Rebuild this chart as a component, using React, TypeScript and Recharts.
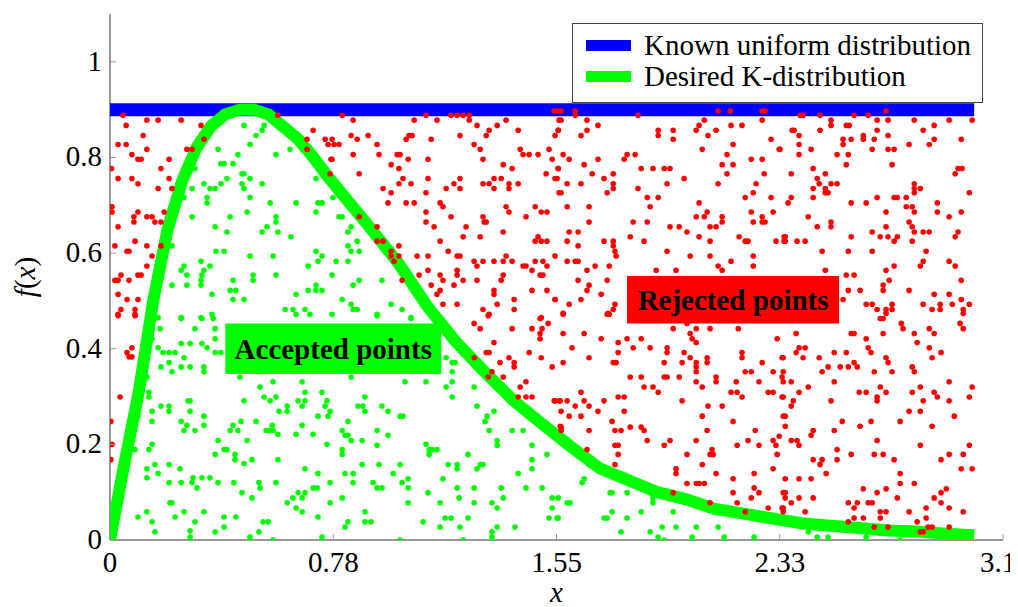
import React from 'react';
import { ComposedChart, XAxis, YAxis, Scatter, Legend, ReferenceArea } from 'recharts';

const FONT = 'Liberation Serif, Tinos, DejaVu Serif, Noto Serif, FreeSerif, Times New Roman, serif';
const FONT_SIZE = 29;
const TICK_COLOR = '#9a9a9a';
const FRAME_COLOR = '#333';

const xTicks = [0, 0.775, 1.55, 2.325, 3.1];
const xTickLabels = ['0', '0.78', '1.55', '2.33', '3.1'];
const yTicks = [0, 0.2, 0.4, 0.6, 0.8, 1];
const yTickLabels = ['0', '0.2', '0.4', '0.6', '0.8', '1'];

const seriesNames = ['Known uniform distribution', 'Desired K-distribution'];

// envelope used for the rejection sampling
const uniformLine = [
  [0, 0.9],
  [3, 0.9],
];

// target pdf
const kCurve = [
  [0, 0], [0.05, 0.16], [0.1, 0.31], [0.15, 0.5], [0.2, 0.65], [0.25, 0.75], [0.3, 0.82],
  [0.35, 0.865], [0.4, 0.89], [0.45, 0.9], [0.5, 0.9], [0.55, 0.89], [0.6, 0.865], [0.65, 0.84],
  [0.7, 0.805], [0.75, 0.765], [0.8, 0.728], [0.9, 0.655], [1.0, 0.58], [1.1, 0.49], [1.2, 0.415],
  [1.3, 0.352], [1.4, 0.292], [1.5, 0.243], [1.6, 0.195], [1.7, 0.15], [1.8, 0.125], [1.9, 0.1],
  [2.0, 0.085], [2.1, 0.065], [2.2, 0.055], [2.3, 0.045], [2.4, 0.035], [2.5, 0.03], [2.6, 0.025],
  [2.7, 0.02], [2.8, 0.018], [2.9, 0.013], [3.0, 0.01],
];

// samples above the pdf
const rejectedPoints = [
  [0.045,0.888],[0.056,0.867],[0.128,0.878],[0.167,0.878],[0.247,0.878],[0.316,0.867],[0.028,0.827],[0.056,0.827],
  [0.115,0.846],[0.128,0.817],[0.076,0.806],[0.097,0.796],[0.108,0.796],[0.205,0.796],[0.267,0.817],[0.285,0.817],
  [0.326,0.838],[0.005,0.777],[0.177,0.777],[0.028,0.756],[0.076,0.756],[0.097,0.745],[0.205,0.756],[0.167,0.735],
  [0.215,0.735],[0.007,0.697],[0.007,0.686],[0.097,0.686],[0.083,0.676],[0.128,0.676],[0.146,0.676],[0.083,0.665],
  [0.156,0.665],[0.177,0.665],[0.188,0.686],[0.028,0.655],[0.087,0.625],[0.017,0.615],[0.128,0.615],[0.059,0.604],
  [0.066,0.604],[0.177,0.615],[0.146,0.594],[0.128,0.573],[0.017,0.543],[0.028,0.543],[0.038,0.554],[0.066,0.543],
  [0.097,0.554],[0.108,0.554],[0.028,0.514],[0.059,0.503],[0.097,0.503],[0.028,0.472],[0.038,0.482],[0.087,0.482],
  [0.087,0.472],[0.583,0.888],[0.684,0.838],[0.684,0.817],[0.705,0.857],[0.747,0.838],[0.757,0.827],[0.778,0.827],
  [0.767,0.796],[0.764,0.766],
  [0.028,0.469],[0.087,0.469],[0.059,0.392],[0.066,0.383],[0.076,0.383],[0.076,0.402],[0.035,0.299],[0.003,0.248],
  [0.007,0.2],[0.003,0.168],
  [0.806,0.888],[0.844,0.878],[1.056,0.878],[1.097,0.888],[1.135,0.878],[1.184,0.888],[1.205,0.888],[1.226,0.888],
  [1.247,0.888],[1.247,0.878],[1.274,0.867],[1.375,0.878],[1.344,0.867],[1.417,0.857],[1.542,0.897],[1.559,0.878],
  [0.837,0.846],[0.858,0.838],[0.896,0.846],[0.771,0.838],[0.795,0.827],[0.771,0.796],[0.927,0.827],[0.934,0.806],
  [0.844,0.806],[1.028,0.838],[1.038,0.846],[1.049,0.846],[1.115,0.838],[1.215,0.846],[1.306,0.846],[1.316,0.857],
  [1.264,0.827],[1.285,0.817],[1.295,0.796],[0.997,0.806],[1.007,0.806],[1.035,0.796],[1.104,0.796],[0.976,0.785],
  [1.003,0.777],[1.365,0.785],[1.396,0.777],[1.424,0.817],[1.434,0.806],[1.455,0.806],[1.486,0.806],[1.524,0.817],
  [1.535,0.796],[1.556,0.857],[1.545,0.846],[1.556,0.777],[1.514,0.766],[1.545,0.756],[0.865,0.766],[1.017,0.756],
  [1.003,0.745],[1.045,0.745],[1.104,0.756],[0.948,0.735],[0.976,0.726],[0.965,0.705],[1.097,0.726],[1.167,0.735],
  [1.194,0.745],[1.215,0.756],[1.215,0.735],[1.295,0.745],[1.316,0.745],[1.333,0.756],[1.358,0.756],[1.333,0.735],
  [1.385,0.745],[1.385,0.735],[1.417,0.745],[1.559,0.726],[1.028,0.705],[1.056,0.705],[1.097,0.686],[1.097,0.665],
  [1.125,0.655],[1.146,0.705],[1.156,0.697],[1.184,0.676],[1.236,0.655],[1.226,0.634],[1.285,0.634],[1.295,0.676],
  [1.299,0.665],[1.306,0.665],[1.375,0.697],[1.385,0.686],[1.365,0.644],[1.444,0.676],[1.476,0.697],[1.497,0.686],
  [1.517,0.686],[1.476,0.625],[1.486,0.634],[1.497,0.625],[1.517,0.625],[0.865,0.676],[0.927,0.655],[0.927,0.625],
  [0.948,0.625],[1.003,0.615],[0.976,0.604],[0.976,0.594],[1.003,0.594],[0.986,0.583],[1.066,0.594],[1.104,0.594],
  [1.146,0.625],[1.174,0.604],[1.205,0.594],[1.215,0.594],[1.264,0.583],[1.274,0.573],[1.295,0.583],[1.333,0.583],
  [1.375,0.594],[1.365,0.583],[1.396,0.583],[1.434,0.573],[1.444,0.573],[1.476,0.583],[1.503,0.583],[1.517,0.573],
  [1.465,0.564],[1.493,0.554],[1.503,0.554],[1.014,0.543],[1.073,0.554],[1.104,0.564],[1.115,0.533],[1.146,0.554],
  [1.156,0.543],[1.146,0.522],[1.135,0.514],[1.205,0.564],[1.205,0.554],[1.194,0.533],[1.226,0.543],[1.274,0.543],
  [1.358,0.543],[1.365,0.554],[1.333,0.522],[1.333,0.514],[1.465,0.522],[1.517,0.522],[1.545,0.503],[1.156,0.493],
  [1.205,0.493],[1.295,0.482],[1.316,0.472],[1.344,0.493],[1.403,0.503],[1.403,0.482],[1.497,0.465],
  [1.556,0.897],[1.566,0.897],[1.615,0.897],[1.615,0.888],[1.833,0.888],[2.111,0.897],[2.153,0.897],[2.264,0.897],
  [2.274,0.897],[1.566,0.878],[1.656,0.878],[1.694,0.867],[1.656,0.857],[1.635,0.846],[1.556,0.857],[1.903,0.857],
  [1.903,0.846],[1.955,0.857],[1.955,0.838],[2.035,0.857],[2.045,0.867],[2.063,0.878],[2.076,0.846],[2.104,0.857],
  [2.156,0.867],[2.194,0.867],[2.264,0.878],[2.056,0.817],[2.163,0.827],[2.295,0.838],[2.323,0.817],[1.573,0.806],
  [1.594,0.796],[1.694,0.796],[1.646,0.785],[1.556,0.777],[1.795,0.806],[1.785,0.796],[1.823,0.806],[2.142,0.806],
  [2.125,0.785],[2.163,0.785],[2.142,0.766],[2.226,0.796],[2.264,0.796],[2.271,0.766],[1.844,0.777],[1.885,0.777],
  [1.924,0.777],[1.944,0.777],[1.674,0.766],[1.715,0.756],[1.747,0.766],[1.747,0.745],[1.747,0.735],[1.587,0.745],
  [1.635,0.745],[1.566,0.726],[1.552,0.756],[1.993,0.756],[1.934,0.745],[1.833,0.735],[2.111,0.745],[2.243,0.745],
  [2.233,0.726],[2.205,0.716],[2.295,0.716],[1.726,0.726],[1.865,0.716],[1.903,0.716],[1.875,0.697],[1.587,0.697],
  [1.663,0.697],[2.045,0.705],[2.073,0.686],[2.063,0.676],[2.035,0.676],[2.125,0.676],[2.125,0.665],[2.083,0.655],
  [2.104,0.655],[2.226,0.686],[2.233,0.665],[2.264,0.676],[2.264,0.665],[2.274,0.665],[2.302,0.686],[1.663,0.665],
  [1.816,0.665],[1.865,0.665],[1.944,0.655],[1.976,0.655],[2.003,0.644],[2.045,0.634],[1.594,0.644],[1.625,0.644],
  [1.587,0.625],[1.625,0.615],[1.806,0.634],[1.854,0.625],[1.715,0.625],[1.747,0.625],[1.747,0.615],[1.753,0.604],
  [1.757,0.594],[2.083,0.625],[2.184,0.634],[2.205,0.625],[2.215,0.625],[2.312,0.625],[2.340,0.634],[2.340,0.625],
  [1.934,0.604],[2.014,0.594],[2.083,0.594],[2.233,0.594],[2.233,0.573],[2.156,0.583],[2.111,0.573],[2.125,0.564],
  [1.545,0.594],[1.587,0.583],[1.615,0.583],[1.625,0.583],[1.656,0.564],[1.684,0.573],[1.733,0.573],[1.896,0.564],
  [1.965,0.564],[1.625,0.543],[1.726,0.543],[1.663,0.533],[1.656,0.522],[1.705,0.514],[1.635,0.503],[1.594,0.493],
  [1.573,0.472],[1.545,0.503],[1.753,0.493],[1.747,0.482],[1.733,0.472],[1.726,0.472],
  [2.396,0.888],[2.406,0.888],[2.465,0.888],[2.583,0.888],[2.632,0.888],[2.694,0.897],[2.503,0.878],[2.503,0.867],
  [2.465,0.857],[2.556,0.867],[2.566,0.867],[2.663,0.878],[2.701,0.878],[2.792,0.878],[2.913,0.878],[2.993,0.878],
  [2.861,0.867],[2.823,0.857],[2.663,0.857],[2.368,0.857],[2.375,0.857],[2.392,0.846],[2.392,0.827],[2.392,0.806],
  [2.434,0.817],[2.326,0.817],[2.545,0.838],[2.545,0.827],[2.573,0.838],[2.615,0.846],[2.615,0.838],[2.653,0.838],
  [2.701,0.846],[2.646,0.817],[2.701,0.817],[2.722,0.817],[2.774,0.827],[2.844,0.827],[2.861,0.838],[2.955,0.838],
  [2.524,0.806],[2.563,0.806],[2.556,0.785],[2.715,0.785],[2.365,0.766],[2.441,0.777],[2.455,0.756],[2.483,0.766],
  [2.462,0.745],[2.441,0.735],[2.483,0.735],[2.483,0.726],[2.493,0.726],[2.503,0.745],[2.524,0.745],[2.934,0.766],
  [2.944,0.777],[2.958,0.777],[2.792,0.745],[2.792,0.735],[2.813,0.735],[2.792,0.726],[2.983,0.726],[2.365,0.716],
  [2.354,0.705],[2.441,0.716],[2.573,0.705],[2.625,0.705],[2.663,0.716],[2.722,0.716],[2.733,0.716],[2.764,0.716],
  [2.764,0.697],[2.785,0.697],[2.792,0.686],[2.872,0.705],[2.872,0.686],[2.913,0.676],[2.955,0.686],[2.694,0.686],
  [2.424,0.676],[2.455,0.655],[2.503,0.665],[2.503,0.655],[2.344,0.634],[2.344,0.625],[2.385,0.625],[2.413,0.625],
  [2.573,0.634],[2.646,0.644],[2.674,0.634],[2.694,0.655],[2.701,0.634],[2.733,0.634],[2.722,0.625],[2.785,0.625],
  [2.774,0.665],[2.785,0.655],[2.792,0.644],[2.823,0.644],[2.844,0.644],[2.944,0.644],[2.934,0.634],[2.472,0.604],
  [2.563,0.604],[2.646,0.604],[2.833,0.604],[2.823,0.583],[2.813,0.573],[2.913,0.583],[2.934,0.573],[2.722,0.573],
  [2.694,0.564],[2.483,0.564],[2.556,0.554],[2.583,0.554],[2.705,0.543],[2.684,0.533],[2.684,0.522],[2.563,0.522],
  [2.604,0.522],[2.774,0.522],[2.955,0.543],[2.545,0.503],[2.625,0.493],[2.646,0.493],[2.663,0.482],[2.694,0.482],
  [2.715,0.493],[2.715,0.482],[2.823,0.493],[2.854,0.482],[2.882,0.493],[2.882,0.482],[2.924,0.493],[2.955,0.503],
  [2.962,0.482],[2.983,0.493],[2.861,0.514],[2.913,0.514],
  [1.313,0.469],[1.493,0.463],[1.521,0.453],[1.5,0.442],[1.493,0.432],[1.493,0.421],[1.465,0.442],[1.396,0.442],
  [1.264,0.453],[1.285,0.442],[1.333,0.413],[1.306,0.392],[1.316,0.392],[1.264,0.381],[1.354,0.371],[1.385,0.381],
  [1.403,0.371],[1.403,0.362],[1.455,0.392],[1.497,0.381],[1.535,0.362],[1.326,0.352],[1.313,0.341],[1.365,0.341],
  [1.424,0.32],[1.444,0.331],[1.444,0.299],[1.465,0.299],[1.417,0.299],[1.542,0.291],[1.559,0.291],[1.563,0.238],
  [1.729,0.474],[1.573,0.474],[1.573,0.432],[1.646,0.432],[1.705,0.421],[1.604,0.402],[1.573,0.371],[1.663,0.381],
  [1.764,0.413],[1.795,0.421],[1.764,0.392],[1.747,0.371],[1.757,0.371],[1.816,0.402],[1.844,0.421],[1.875,0.402],
  [1.806,0.341],[1.844,0.341],[1.854,0.32],[1.885,0.32],[1.903,0.309],[1.924,0.341],[1.934,0.341],[1.976,0.341],
  [1.934,0.402],[1.934,0.392],[1.924,0.371],[1.955,0.442],[2.003,0.453],[2.035,0.442],[2.083,0.442],[2.181,0.442],
  [2.014,0.432],[2.021,0.421],[2.035,0.413],[1.993,0.392],[2.014,0.381],[1.986,0.371],[2.035,0.371],[2.035,0.362],
  [2.035,0.352],[2.073,0.381],[2.073,0.371],[2.104,0.341],[2.104,0.331],[2.035,0.331],[2.056,0.32],[2.194,0.392],
  [2.194,0.381],[2.264,0.371],[2.205,0.352],[2.226,0.352],[2.302,0.352],[2.316,0.421],[2.333,0.381],[2.333,0.341],
  [2.253,0.331],[2.174,0.331],[2.156,0.309],[2.177,0.309],[2.194,0.299],[2.285,0.309],[2.302,0.309],[2.333,0.299],
  [2.125,0.28],[2.076,0.28],[1.986,0.291],[2.056,0.259],[2.073,0.229],[2.163,0.248],[2.24,0.229],[2.215,0.208],
  [2.253,0.198],[2.302,0.208],[2.312,0.198],[2.316,0.179],[2.177,0.198],[2.09,0.189],[2.083,0.179],[2.094,0.179],
  [2.003,0.179],[2.035,0.208],[2.056,0.158],[2.104,0.139],[2.163,0.128],[2.163,0.099],[2.177,0.078],[2.236,0.139],
  [2.236,0.109],[2.226,0.088],[2.253,0.099],[2.302,0.149],[2.285,0.067],[2.333,0.067],[2.337,0.099],[2.337,0.259],
  [2.323,0.217],[1.965,0.149],[1.965,0.139],[2.003,0.118],[2.035,0.118],[2.045,0.118],[2.063,0.118],[1.924,0.198],
  [1.944,0.208],[1.955,0.099],[2.083,0.078],[2.205,0.059],[1.545,0.291],[1.563,0.291],[1.587,0.291],[1.566,0.269],
  [1.594,0.259],[1.635,0.259],[1.635,0.309],[1.615,0.28],[1.646,0.291],[1.663,0.28],[1.694,0.269],[1.715,0.291],
  [1.764,0.299],[1.785,0.299],[1.785,0.269],[1.743,0.248],[1.753,0.229],[1.774,0.229],[1.806,0.236],[1.844,0.236],
  [1.854,0.229],[1.865,0.208],[1.753,0.198],[1.764,0.198],[1.764,0.179],[1.753,0.158],[1.656,0.189],[1.566,0.236],
  [1.566,0.229],[1.663,0.229],
  [2.674,0.463],[2.684,0.463],[2.694,0.474],[2.747,0.453],[2.753,0.442],[2.844,0.442],[2.861,0.432],[2.951,0.453],
  [2.962,0.442],[2.962,0.474],[2.382,0.432],[2.573,0.432],[2.583,0.432],[2.625,0.421],[2.684,0.432],[2.792,0.432],
  [2.802,0.413],[2.844,0.402],[2.854,0.381],[2.885,0.392],[2.392,0.402],[2.413,0.402],[2.382,0.392],[2.406,0.381],
  [2.337,0.381],[2.462,0.381],[2.514,0.392],[2.556,0.392],[2.632,0.402],[2.642,0.392],[2.694,0.381],[2.701,0.371],
  [2.337,0.352],[2.472,0.352],[2.493,0.362],[2.535,0.362],[2.563,0.362],[2.583,0.371],[2.594,0.362],[2.653,0.352],
  [2.715,0.352],[2.785,0.362],[2.792,0.352],[2.337,0.331],[2.365,0.331],[2.424,0.32],[2.392,0.309],[2.514,0.331],
  [2.601,0.309],[2.625,0.309],[2.674,0.32],[2.694,0.309],[2.663,0.299],[2.663,0.291],[2.785,0.309],[2.813,0.32],
  [2.823,0.291],[2.861,0.309],[2.872,0.299],[2.913,0.331],[2.913,0.291],[2.983,0.299],[2.993,0.32],[2.337,0.299],
  [2.372,0.291],[2.365,0.28],[2.503,0.291],[2.774,0.269],[2.813,0.269],[2.931,0.259],[2.344,0.259],[2.344,0.238],
  [2.542,0.248],[2.604,0.238],[2.642,0.248],[2.743,0.248],[2.854,0.238],[2.441,0.229],[2.434,0.219],[2.514,0.229],
  [2.365,0.208],[2.385,0.208],[2.392,0.198],[2.663,0.208],[2.813,0.198],[2.983,0.198],[2.524,0.189],[2.524,0.168],
  [2.573,0.179],[2.653,0.179],[2.684,0.179],[2.722,0.168],[2.441,0.168],[2.472,0.168],[2.465,0.158],[2.486,0.139],
  [2.962,0.179],[2.913,0.179],[2.885,0.168],[2.955,0.149],[2.993,0.149],[2.344,0.128],[2.392,0.128],[2.434,0.128],
  [2.743,0.139],[2.743,0.118],[2.792,0.118],[2.615,0.107],[2.694,0.107],[2.663,0.099],[2.344,0.099],[2.344,0.088],
  [2.392,0.088],[2.441,0.088],[2.365,0.078],[2.337,0.067],[2.337,0.059],[2.413,0.059],[2.563,0.078],[2.594,0.078],
  [2.632,0.078],[2.646,0.078],[2.583,0.067],[2.583,0.046],[2.615,0.046],[2.674,0.059],[2.694,0.059],[2.674,0.046],
  [2.733,0.088],[2.774,0.059],[2.833,0.067],[2.833,0.046],[2.802,0.038],[2.861,0.088],[2.885,0.099],[2.903,0.107],
  [2.885,0.078],[2.913,0.067],[2.962,0.059],[2.563,0.038],[2.653,0.027],[2.701,0.027],[2.840,0.027],[2.854,0.027],
  [2.813,0.017],[2.823,0.017],[2.913,0.027],
];

// samples under the pdf
const acceptedPoints = [
  [0.465,0.867],[0.528,0.857],[0.535,0.867],[0.507,0.846],[0.486,0.827],[0.375,0.817],[0.444,0.806],[0.576,0.806],
  [0.625,0.817],[0.385,0.787],[0.396,0.787],[0.427,0.787],[0.295,0.777],[0.458,0.766],[0.465,0.766],[0.406,0.756],
  [0.486,0.756],[0.326,0.745],[0.385,0.745],[0.285,0.735],[0.347,0.735],[0.365,0.735],[0.458,0.745],[0.465,0.735],
  [0.528,0.745],[0.715,0.756],[0.257,0.716],[0.337,0.716],[0.337,0.705],[0.486,0.716],[0.556,0.705],[0.646,0.705],
  [0.722,0.705],[0.736,0.705],[0.715,0.686],[0.476,0.686],[0.285,0.676],[0.417,0.676],[0.576,0.676],[0.576,0.665],
  [0.365,0.655],[0.406,0.644],[0.545,0.655],[0.528,0.644],[0.583,0.644],[0.628,0.634],[0.215,0.615],[0.368,0.604],
  [0.396,0.604],[0.486,0.594],[0.566,0.594],[0.715,0.604],[0.736,0.594],[0.722,0.583],[0.316,0.583],[0.257,0.573],
  [0.247,0.564],[0.347,0.573],[0.688,0.573],[0.267,0.554],[0.326,0.564],[0.319,0.554],[0.316,0.543],[0.316,0.533],
  [0.497,0.554],[0.497,0.543],[0.576,0.554],[0.215,0.533],[0.267,0.533],[0.427,0.543],[0.715,0.533],[0.417,0.522],
  [0.437,0.522],[0.354,0.514],[0.427,0.503],[0.465,0.503],[0.688,0.522],[0.715,0.522],[0.736,0.522],[0.646,0.514],
  [0.167,0.465],[0.247,0.465],[0.316,0.465],[0.354,0.472],[0.608,0.482],[0.635,0.482],[0.677,0.482],[0.694,0.472],
  [0.646,0.472],
  [0.774,0.716],[0.795,0.676],[0.806,0.676],[0.837,0.655],[0.826,0.644],[0.826,0.615],[0.837,0.604],[0.858,0.625],
  [0.865,0.604],[0.785,0.583],[0.826,0.583],[0.771,0.554],[0.865,0.543],[0.844,0.533],[0.944,0.543],[0.806,0.503],
  [0.837,0.493],[0.844,0.482],[0.858,0.482],[0.927,0.472],[0.976,0.493],[1.014,0.482],[1.045,0.465],[0.771,0.472],
  [0.174,0.442],[0.247,0.463],[0.319,0.463],[0.358,0.463],[0.365,0.442],[0.295,0.442],[0.146,0.421],[0.247,0.411],
  [0.278,0.411],[0.319,0.411],[0.337,0.402],[0.365,0.421],[0.167,0.402],[0.184,0.392],[0.205,0.392],[0.226,0.392],
  [0.257,0.381],[0.205,0.371],[0.177,0.362],[0.215,0.352],[0.247,0.362],[0.278,0.362],[0.326,0.362],[0.326,0.352],
  [0.365,0.392],[0.385,0.392],[0.128,0.341],[0.135,0.309],[0.135,0.299],[0.104,0.291],[0.177,0.28],[0.205,0.28],
  [0.205,0.269],[0.146,0.269],[0.097,0.259],[0.146,0.248],[0.271,0.291],[0.278,0.291],[0.278,0.269],[0.326,0.259],
  [0.247,0.248],[0.267,0.24],[0.257,0.229],[0.295,0.229],[0.326,0.24],[0.427,0.24],[0.417,0.229],[0.444,0.229],
  [0.455,0.248],[0.507,0.248],[0.465,0.291],[0.521,0.32],[0.566,0.331],[0.535,0.299],[0.556,0.291],[0.576,0.299],
  [0.615,0.28],[0.615,0.269],[0.587,0.269],[0.667,0.331],[0.677,0.309],[0.653,0.291],[0.677,0.291],[0.667,0.28],
  [0.736,0.309],[0.753,0.291],[0.747,0.28],[0.722,0.259],[0.757,0.259],[0.667,0.24],[0.563,0.24],[0.542,0.229],
  [0.552,0.229],[0.566,0.229],[0.583,0.221],[0.646,0.221],[0.705,0.221],[0.753,0.2],[0.476,0.208],[0.375,0.208],
  [0.451,0.341],[0.514,0.352],
  [0.087,0.189],[0.135,0.189],[0.146,0.2],[0.128,0.149],[0.128,0.13],[0.156,0.158],[0.167,0.139],[0.205,0.158],
  [0.243,0.149],[0.205,0.12],[0.247,0.12],[0.288,0.13],[0.302,0.109],[0.319,0.13],[0.347,0.13],[0.285,0.12],
  [0.375,0.12],[0.365,0.179],[0.396,0.189],[0.406,0.189],[0.434,0.179],[0.434,0.168],[0.465,0.16],[0.493,0.168],
  [0.583,0.168],[0.677,0.149],[0.722,0.139],[0.705,0.109],[0.719,0.109],[0.677,0.099],[0.653,0.099],[0.667,0.088],
  [0.635,0.088],[0.615,0.078],[0.646,0.067],[0.517,0.12],[0.521,0.109],[0.493,0.088],[0.43,0.12],[0.458,0.099],
  [0.576,0.12],
  [0.097,0.048],[0.128,0.059],[0.146,0.038],[0.156,0.017],[0.226,0.048],[0.257,0.059],[0.295,0.038],[0.278,0.019],
  [0.278,0.006],[0.326,0.059],[0.396,0.048],[0.437,0.048],[0.365,0.017],[0.396,0.027],[0.486,0.006],[0.517,0.017],
  [0.531,0.038],[0.549,0.038],[0.566,0.0],[0.667,0.059],[0.722,0.048],[0.736,0.006],[0.215,0.078],[0.208,0.078],
  [0.927,0.469],[1.045,0.463],[1.167,0.381],[1.188,0.371],[1.198,0.371],[1.188,0.352],[1.188,0.331],[1.167,0.32],
  [1.188,0.299],[1.264,0.32],[1.274,0.28],[0.837,0.341],[1.024,0.331],[1.097,0.331],[0.885,0.299],[0.861,0.28],
  [0.878,0.28],[0.885,0.269],[0.944,0.28],[0.965,0.269],[1.007,0.259],[1.017,0.259],[0.826,0.248],[0.806,0.229],
  [0.816,0.219],[0.826,0.219],[0.837,0.208],[0.875,0.208],[0.927,0.229],[0.965,0.219],[0.764,0.269],[1.333,0.269],
  [1.309,0.259],[1.302,0.248],[1.316,0.229],[1.396,0.229],[1.434,0.229],[1.344,0.208],[1.344,0.198],[1.465,0.198],
  [1.517,0.179],[1.465,0.168],[1.465,0.149],[1.097,0.2],[1.108,0.189],[1.118,0.189],[1.108,0.179],[1.135,0.189],
  [0.927,0.198],[0.806,0.189],[0.806,0.179],[0.875,0.158],[0.934,0.158],[1.007,0.158],[0.983,0.139],[0.816,0.139],
  [0.844,0.139],[0.844,0.12],[0.913,0.12],[0.927,0.109],[0.944,0.109],[1.014,0.12],[1.035,0.128],[1.035,0.109],
  [1.035,0.078],[0.764,0.12],[0.806,0.088],[0.764,0.078],[1.174,0.158],[1.205,0.158],[1.205,0.149],[1.243,0.179],
  [1.274,0.149],[1.285,0.158],[1.295,0.158],[1.156,0.128],[1.205,0.109],[1.264,0.109],[1.264,0.078],[1.212,0.088],
  [1.146,0.078],[1.104,0.099],[1.326,0.078],[1.344,0.067],[1.358,0.109],[1.365,0.088],[1.417,0.139],[1.444,0.109],
  [1.5,0.109],[1.535,0.088],[1.535,0.067],[1.524,0.046],[1.552,0.046],[1.406,0.027],[1.344,0.027],[1.326,0.017],
  [1.326,0.006],[1.243,0.046],[1.215,0.027],[1.163,0.046],[1.184,0.046],[1.146,0.027],[1.087,0.038],[1.007,0.0],
  [1.226,0.0],[0.885,0.059],[0.885,0.038],[0.906,0.038],[0.816,0.027],[0.826,0.038],
  [1.663,0.158],[1.646,0.128],[1.639,0.12],[1.556,0.088],[1.587,0.078],[1.597,0.078],[1.556,0.046],[1.715,0.046],
  [1.726,0.046],[1.743,0.059],[1.736,0.099],[1.743,0.099],[1.795,0.099],[1.795,0.046],[1.844,0.059],[1.885,0.088],
  [1.885,0.078],[1.955,0.059],[1.917,0.027],[1.965,0.027],[2.035,0.027],[2.111,0.027],[1.875,0.017],[1.903,0.006],
  [1.924,0.0],[2.021,0.006],[2.132,0.006],[2.236,0.006],[1.774,0.017],
  [2.424,0.017],[2.455,0.006],[2.493,0.006],[2.743,0.0],[2.625,0.006],
];

const toXY = (pts: number[][]) => pts.map(([x, y]) => ({ x, y }));

const uniformData = toXY(uniformLine);
const curveData = toXY(kCurve);
const rejectedData = toXY(rejectedPoints);
const acceptedData = toXY(acceptedPoints);

const dot = (color: string) => (props: any) => (
  <circle cx={props.cx} cy={props.cy} r={2.8} fill={color} />
);

// curves are drawn as scatter lines without markers so they stay under the samples
const noMarker = () => <g />;

function BottomTick({ x, y, payload }: any) {
  const i = xTicks.indexOf(payload.value);
  // last label is nudged left so it stays inside the page
  const dx = i === xTicks.length - 1 ? -5 : 0;
  return (
    <g>
      <line x1={x} x2={x} y1={y} y2={y - 6} stroke={TICK_COLOR} />
      <text x={x + dx} y={y + 32} textAnchor="middle" fontSize={FONT_SIZE} fontFamily={FONT} fill="#000">
        {xTickLabels[i]}
      </text>
    </g>
  );
}

function TopTick({ x, y }: any) {
  return <line x1={x} x2={x} y1={y} y2={y + 6} stroke={TICK_COLOR} />;
}

function LeftTick({ x, y, payload }: any) {
  const label = yTickLabels[yTicks.indexOf(payload.value)];
  return (
    <g>
      <line x1={x} x2={x + 6} y1={y} y2={y} stroke={TICK_COLOR} />
      <text x={x - 8} y={y + 9} textAnchor="end" fontSize={FONT_SIZE} fontFamily={FONT} fill="#000">
        {label}
      </text>
    </g>
  );
}

function RightTick({ x, y }: any) {
  return <line x1={x} x2={x - 6} y1={y} y2={y} stroke={TICK_COLOR} />;
}

function LegendBox({ payload }: any) {
  const items = seriesNames
    .map((name) => (payload || []).find((p: any) => p.value === name))
    .filter(Boolean);
  return (
    <div
      style={{
        boxSizing: 'border-box',
        width: 411,
        height: 80,
        border: '1px solid #444',
        background: '#fff',
        padding: '6px 0 0 13px',
        fontFamily: FONT,
        fontSize: FONT_SIZE,
        lineHeight: '31px',
        color: '#000',
        whiteSpace: 'nowrap',
      }}
    >
      {items.map((entry: any) => (
        <div key={entry.value} style={{ display: 'flex', alignItems: 'center' }}>
          <span
            style={{
              display: 'inline-block',
              width: 45,
              height: 11,
              background: entry.color,
              marginRight: 13,
            }}
          />
          {entry.value}
        </div>
      ))}
    </div>
  );
}

export default function App() {
  return (
    <div style={{ width: 1010, height: 599 }}>
      <ComposedChart
        width={1010}
        height={599}
        margin={{ top: 6, right: 15, bottom: 0, left: 0 }}
        style={{ overflow: 'visible' }}
      >
        <XAxis
          type="number"
          dataKey="x"
          domain={[0, 3.1]}
          ticks={xTicks}
          tick={<BottomTick />}
          tickSize={0}
          tickMargin={0}
          height={67}
          stroke={FRAME_COLOR}
          allowDataOverflow
          label={(p: any) => {
            const vb = p.viewBox;
            return (
              <text
                x={vb.x + vb.width / 2}
                y={vb.y + 62}
                textAnchor="middle"
                fontSize={FONT_SIZE}
                fontStyle="italic"
                fontFamily={FONT}
                fill="#000"
              >
                x
              </text>
            );
          }}
        />
        <XAxis
          xAxisId="top"
          orientation="top"
          type="number"
          domain={[0, 3.1]}
          ticks={xTicks}
          tick={<TopTick />}
          tickSize={0}
          tickMargin={0}
          height={0}
          stroke={FRAME_COLOR}
        />
        <YAxis
          type="number"
          dataKey="y"
          domain={[0, 1.1]}
          ticks={yTicks}
          tick={<LeftTick />}
          tickSize={0}
          tickMargin={0}
          width={102}
          stroke={FRAME_COLOR}
          allowDataOverflow
          label={(p: any) => {
            const vb = p.viewBox;
            const cx = vb.x + 27;
            const cy = vb.y + vb.height / 2;
            return (
              <text
                x={cx}
                y={cy}
                transform={`rotate(-90 ${cx} ${cy})`}
                textAnchor="middle"
                fontSize={FONT_SIZE}
                fontFamily={FONT}
                fill="#000"
              >
                <tspan fontStyle="italic">f</tspan>
                <tspan>(</tspan>
                <tspan fontStyle="italic">x</tspan>
                <tspan>)</tspan>
              </text>
            );
          }}
        />
        <YAxis
          yAxisId="right"
          orientation="right"
          type="number"
          domain={[0, 1.1]}
          ticks={yTicks}
          tick={<RightTick />}
          tickSize={0}
          tickMargin={0}
          width={0}
          stroke={FRAME_COLOR}
        />
        <Legend
          layout="vertical"
          align="center"
          verticalAlign="middle"
          content={<LegendBox />}
          wrapperStyle={{ position: 'absolute', left: 564, top: 15, width: 'auto' }}
        />
        <Scatter
          data={uniformData}
          name="Known uniform distribution"
          fill="#0000ff"
          line={{ stroke: '#0000ff', strokeWidth: 13 }}
          shape={noMarker}
          legendType="rect"
          isAnimationActive={false}
        />
        <Scatter
          data={curveData}
          name="Desired K-distribution"
          fill="#00ff00"
          line={{ stroke: '#00ff00', strokeWidth: 12 }}
          shape={noMarker}
          legendType="rect"
          isAnimationActive={false}
        />
        <Scatter
          data={rejectedData}
          name="rejected"
          fill="#ff0000"
          shape={dot('#ff0000')}
          legendType="none"
          isAnimationActive={false}
        />
        <Scatter
          data={acceptedData}
          name="accepted"
          fill="#00ff00"
          shape={dot('#00ff00')}
          legendType="none"
          isAnimationActive={false}
        />
        <ReferenceArea
          x1={0.4}
          x2={1.15}
          y1={0.347}
          y2={0.453}
          fill="#00ff00"
          fillOpacity={1}
          stroke="none"
          label={{
            value: 'Accepted points',
            position: 'center',
            fill: '#000',
            fontSize: FONT_SIZE,
            fontWeight: 'bold',
            fontFamily: FONT,
          }}
        />
        <ReferenceArea
          x1={1.795}
          x2={2.531}
          y1={0.453}
          y2={0.552}
          fill="#ff0000"
          fillOpacity={1}
          stroke="none"
          label={{
            value: 'Rejected points',
            position: 'center',
            fill: '#000',
            fontSize: FONT_SIZE,
            fontWeight: 'bold',
            fontFamily: FONT,
          }}
        />
      </ComposedChart>
    </div>
  );
}
